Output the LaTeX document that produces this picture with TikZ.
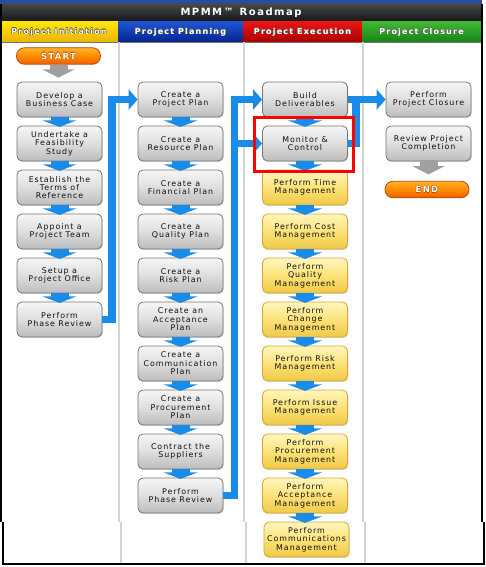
\documentclass[tikz,border=0pt]{standalone}
\usepackage{fontspec}
\usetikzlibrary{arrows.meta,calc,shadows}
\newfontfamily\boxfont[LetterSpace=12]{DejaVu Sans}
\newfontfamily\capfont[LetterSpace=15]{DejaVu Sans}
% white lettering with a thin dark rim
\newcommand\rimtext[2]{\leavevmode
  \rlap{\kern-.5pt\textcolor{#1}{#2}}\rlap{\kern.5pt\textcolor{#1}{#2}}%
  \rlap{\raisebox{.5pt}{\textcolor{#1}{#2}}}\rlap{\raisebox{-.5pt}{\textcolor{#1}{#2}}}#2}
\definecolor{flowblue}{RGB}{24,140,232}
\definecolor{gtop}{RGB}{246,246,246}
\definecolor{gmid}{RGB}{222,222,222}
\definecolor{gbot}{RGB}{188,188,188}
\definecolor{gedge}{RGB}{118,118,118}
\definecolor{ytop}{RGB}{255,246,190}
\definecolor{ymid}{RGB}{252,226,120}
\definecolor{ybot}{RGB}{240,200,70}
\definecolor{yedge}{RGB}{214,168,50}
\definecolor{otop}{RGB}{255,178,40}
\definecolor{obot}{RGB}{240,92,0}
\definecolor{oedge}{RGB}{180,78,10}
\definecolor{boxtext}{RGB}{18,18,18}
\definecolor{sepgray}{RGB}{212,212,212}
\definecolor{arrowgray}{RGB}{160,160,160}
\definecolor{topblue}{RGB}{32,78,168}
\begin{document}
\begin{tikzpicture}[x=1pt,y=-1pt,
  stepbox/.style={rounded corners=5pt, draw=gedge, line width=0.8pt,
    top color=gtop, bottom color=gbot, middle color=gmid,
    minimum width=85pt, minimum height=35pt, inner sep=0pt, align=center,
    text=boxtext, font=\boxfont\fontsize{7.9}{8.4}\selectfont,
    drop shadow={shadow xshift=0.8pt, shadow yshift=-1.2pt, opacity=0.25}},
  taskbox/.style={stepbox, draw=yedge, top color=ytop, bottom color=ybot, middle color=ymid},
  pill/.style={rounded corners=8pt, draw=oedge, line width=0.8pt,
    top color=otop, bottom color=obot, middle color=orange!90!yellow,
    minimum width=84pt, minimum height=16.5pt, inner sep=0pt, text=white,
    font=\capfont\bfseries\fontsize{8.5}{9}\selectfont},
  phasehead/.style={text=white, font=\capfont\bfseries\fontsize{8}{9}\selectfont},
  flow/.style={draw=flowblue, line width=7.5pt, line join=miter},
  flowtip/.style={flow, -{Triangle[width=20pt,length=9pt]}},
  dnarrow/.pic={\fill[flowblue] (-9,-0.5) rectangle (9,3.2);
    \fill[flowblue] (-17,3) -- (17,3) -- (0,9.5) -- cycle;},
  grayarrow/.pic={\fill[arrowgray] (-9,0) rectangle (9,5);
    \fill[arrowgray] (-16,4.8) -- (16,4.8) -- (0,13) -- cycle;}
]
\useasboundingbox (0,0) rectangle (486,567);
\fill[white] (0,0) rectangle (486,567);

% title band and phase headers
\fill[topblue] (0,0) rectangle (482,4);
\shade[top color=black!72, bottom color=black!92] (0,4) rectangle (482,22);
\node[text=white, font=\capfont\bfseries\fontsize{10}{11}\selectfont] (title) at (241,13) {MPMM™\hspace{6pt}Roadmap};
\shade[top color={rgb,255:red,255;green,228;blue,10}, bottom color={rgb,255:red,236;green,180;blue,0}] (0,22) rectangle (118,42);
\shade[top color={rgb,255:red,28;green,84;blue,214}, bottom color={rgb,255:red,6;green,36;blue,140}] (118,22) rectangle (243,42);
\shade[top color={rgb,255:red,236;green,20;blue,20}, bottom color={rgb,255:red,170;green,0;blue,0}] (243,22) rectangle (362,42);
\shade[top color={rgb,255:red,64;green,184;blue,50}, bottom color={rgb,255:red,22;green,130;blue,22}] (362,22) rectangle (481,42);
\draw[black!55, line width=0.6pt] (0,42) -- (481,42);
\node[phasehead] (h1) at (59,32) {\rimtext{black!75}{Project Initiation}};
\node[phasehead] (h2) at (180.5,32) {\rimtext{black!60}{Project Planning}};
\node[phasehead] (h3) at (302.5,32) {\rimtext{black!60}{Project Execution}};
\node[phasehead] (h4) at (421.5,32) {\rimtext{black!60}{Project Closure}};

% column rules and frame
\draw[sepgray, line width=2pt] (119,42) -- (119,522) (243.5,42) -- (243.5,522) (362.5,42) -- (362.5,522);
\draw[sepgray, line width=2pt] (121,522) -- (121,563) (245.5,522) -- (245.5,563) (365,522) -- (365,563);
\draw[black, line width=2pt] (1,4) -- (1,522) (482,4) -- (482,522);
\draw[black, line width=2pt] (3,522) -- (3,564) -- (483.5,564) -- (483.5,522);

% Project Initiation
\node[pill] (start) at (58.5,56) {\rimtext{oedge}{START}};
\node[stepbox] (i1) at (59.5,99.5) {Develop a\\Business Case};
\node[stepbox] (i2) at (59.5,143.5) {Undertake a\\Feasibility\\Study};
\node[stepbox] (i3) at (59.5,187.5) {Establish the\\Terms of\\Reference};
\node[stepbox] (i4) at (59.5,231.5) {Appoint a\\Project Team};
\node[stepbox] (i5) at (59.5,275.5) {Setup a\\Project Office};
\node[stepbox] (i6) at (59.5,319.5) {Perform\\Phase Review};

% Project Planning
\node[stepbox] (p1) at (180.5,99.5) {Create a\\Project Plan};
\node[stepbox] (p2) at (180.5,143.5) {Create a\\Resource Plan};
\node[stepbox] (p3) at (180.5,187.5) {Create a\\Financial Plan};
\node[stepbox] (p4) at (180.5,231.5) {Create a\\Quality Plan};
\node[stepbox] (p5) at (180.5,275.5) {Create a\\Risk Plan};
\node[stepbox] (p6) at (180.5,319.5) {Create an\\Acceptance\\Plan};
\node[stepbox] (p7) at (180.5,363.5) {Create a\\Communication\\Plan};
\node[stepbox] (p8) at (180.5,407.5) {Create a\\Procurement\\Plan};
\node[stepbox] (p9) at (180.5,451.5) {Contract the\\Suppliers};
\node[stepbox] (p10) at (180.5,495.5) {Perform\\Phase Review};

% Project Execution
\node[stepbox] (e1) at (305,99.5) {Build\\Deliverables};
\node[stepbox] (e2) at (305,143.5) {Monitor \&\\Control};
\node[taskbox] (e3) at (305,187.5) {Perform Time\\Management};
\node[taskbox] (e4) at (305,231.5) {Perform Cost\\Management};
\node[taskbox] (e5) at (305,275.5) {Perform\\Quality\\Management};
\node[taskbox] (e6) at (305,319.5) {Perform\\Change\\Management};
\node[taskbox] (e7) at (305,363.5) {Perform Risk\\Management};
\node[taskbox] (e8) at (305,407.5) {Perform Issue\\Management};
\node[taskbox] (e9) at (305,451.5) {Perform\\Procurement\\Management};
\node[taskbox] (e10) at (305,495.5) {Perform\\Acceptance\\Management};
\node[taskbox] (e11) at (306.5,539.5) {Perform\\Communications\\Management};

% Project Closure
\node[stepbox] (c1) at (428.5,99.5) {Perform\\Project Closure};
\node[stepbox] (c2) at (428.5,143.5) {Review Project\\Completion};
\node[pill] (finish) at (427,189.5) {\rimtext{oedge}{END}};

% short arrows inside each column
\pic at (start.south) {grayarrow};
\pic at (c2.south) {grayarrow};
\foreach \a in {i1,i2,i3,i4,i5,p1,p2,p3,p4,p5,p6,p7,p8,p9,e1,e2,e3,e4,e5,e6,e7,e8,e9,e10}
  \pic at (\a.south) {dnarrow};

% hand-over between phases
\draw[flowtip] (i6.east) -- ++(9.5,0) |- (p1.west);
\draw[flowtip] (p10.east) -- ++(11,0) coordinate (k2) |- (e1.west);
\draw[flowtip] (k2 |- e2.west) -- (e2.west);
\draw[flowtip] (e1.east) -- (c1.west);
\draw[flow] (e2.east) -| ($(e1.east)+(8,0)$);

% highlight frame
\draw[red, line width=3pt] ($(e2.north west)+(-7.5,-8)$) rectangle ($(e2.south east)+(5.5,10)$);
\end{tikzpicture}
\end{document}
